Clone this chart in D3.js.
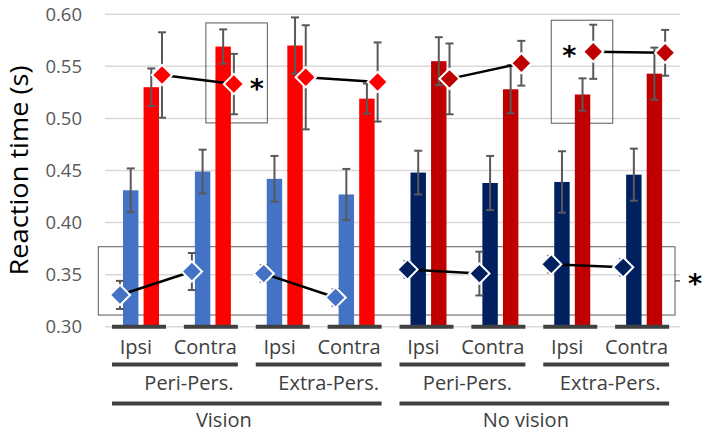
<!DOCTYPE html>
<html>
<head>
<meta charset="utf-8">
<script src="https://cdn.jsdelivr.net/npm/d3@7"></script>
<style>
  html, body { margin: 0; padding: 0; background: #fff; }
  svg { display: block; font-family: "Open Sans", "Noto Sans", sans-serif; }
</style>
</head>
<body>
<svg id="chart" width="708" height="432"></svg>
<script>
"use strict";

// categories (three levels of the x-axis)
const sideLabels  = ["Ipsi", "Contra", "Ipsi", "Contra", "Ipsi", "Contra", "Ipsi", "Contra"];
const spaceLabels = ["Peri-Pers.", "Extra-Pers.", "Peri-Pers.", "Extra-Pers."];
const visionLabels = ["Vision", "No vision"];

// bars
const blueBar     = [0.431, 0.449, 0.442, 0.427, 0.448, 0.438, 0.439, 0.446];
const blueBarErr  = [0.021, 0.021, 0.022, 0.0245, 0.021, 0.026, 0.0295, 0.025];
const redBar      = [0.530, 0.569, 0.570, 0.519, 0.555, 0.528, 0.523, 0.543];
const redBarErr   = [0.018, 0.0165, 0.027, 0.0145, 0.023, 0.023, 0.0155, 0.025];

// diamonds
const blueDiamond    = [0.3305, 0.353, 0.351, 0.328, 0.355, 0.351, 0.360, 0.357];
const blueDiamondErr = [0.0135, 0.0178, 0.008, 0.008, 0.008, 0.021, 0.008, 0.008];
const redDiamond     = [0.5417, 0.533, 0.5395, 0.535, 0.538, 0.553, 0.564, 0.563];
const redDiamondErr  = [0.041, 0.029, 0.050, 0.038, 0.034, 0.0215, 0.026, 0.022];

// y ticks
const yTicks = [0.30, 0.35, 0.40, 0.45, 0.50, 0.55, 0.60];

// colours: vision groups 0-3, no-vision groups 4-7
const blueColor = (i) => i < 4 ? "#4472C4" : "#002060";
const redColor  = (i) => i < 4 ? "#FF0000" : "#C00000";

const plot = { left: 105, right: 680, top: 14.3, bottom: 326.7 };

const svg = d3.select("#chart");

// scales
const x = d3.scaleBand()
    .domain(d3.range(sideLabels.length))
    .range([plot.left, plot.right]);

const xBar = d3.scaleBand()
    .domain(["blue", "red"])
    .range([18, 54])
    .paddingInner(0.25);

const xPt = d3.scalePoint()
    .domain(["blue", "red"])
    .range([15, 57]);

const y = d3.scaleLinear()
    .domain([0.30, 0.60])
    .range([plot.bottom, plot.top]);

// gridlines
svg.append("g")
    .selectAll("line")
    .data(yTicks)
  .enter().append("line")
    .attr("x1", plot.left)
    .attr("x2", plot.right)
    .attr("y1", (d) => y(d))
    .attr("y2", (d) => y(d))
    .style("stroke", "#d9d9d9")
    .style("stroke-width", 1.5);

// y-axis labels
const yAxis = d3.axisLeft(y)
    .tickValues(yTicks)
    .tickFormat(d3.format(".2f"))
    .tickSize(0)
    .tickPadding(23);

const gy = svg.append("g")
    .attr("transform", "translate(" + plot.left + ",0)")
    .call(yAxis);
gy.select(".domain").remove();
gy.selectAll("text")
    .style("font-family", "'Open Sans', sans-serif")
    .style("font-size", "18.5px")
    .style("fill", "#595959");

// y-axis title
svg.append("text")
    .attr("transform", "translate(28," + ((y(0.30) + y(0.60)) / 2) + ") rotate(-90)")
    .attr("text-anchor", "middle")
    .attr("textLength", 210)
    .attr("lengthAdjust", "spacingAndGlyphs")
    .style("font-size", "25px")
    .style("fill", "#000")
    .text("Reaction time (s)");

// annotation boxes (behind the marks)
const boxes = [
  { x0: x(1) + 29, x1: x(1) + 90.5, y0: 0.5917, y1: 0.4957 },
  { x0: x(6) + 15, x1: x(6) + 76.5, y0: 0.5943, y1: 0.4954 },
  { x0: plot.left - 6.7, x1: plot.right - 5, y0: 0.3768, y1: 0.3112 }
];
svg.append("g")
    .selectAll("rect")
    .data(boxes)
  .enter().append("rect")
    .attr("x", (d) => d.x0)
    .attr("y", (d) => y(d.y0))
    .attr("width", (d) => d.x1 - d.x0)
    .attr("height", (d) => y(d.y1) - y(d.y0))
    .style("fill", "none")
    .style("stroke", "#595959")
    .style("stroke-width", 1);

// little bracket tick right of the lower box
svg.append("line")
    .attr("x1", plot.right - 5)
    .attr("x2", plot.right)
    .attr("y1", y(0.344))
    .attr("y2", y(0.344))
    .style("stroke", "#595959")
    .style("stroke-width", 1.5);

// bars
const bars = svg.append("g");
bars.selectAll(".bar-blue")
    .data(blueBar)
  .enter().append("rect")
    .attr("class", "bar-blue")
    .attr("x", (d, i) => x(i) + xBar("blue"))
    .attr("width", xBar.bandwidth())
    .attr("y", (d) => y(d))
    .attr("height", (d) => y(0.30) - y(d))
    .style("fill", (d, i) => blueColor(i));

bars.selectAll(".bar-red")
    .data(redBar)
  .enter().append("rect")
    .attr("class", "bar-red")
    .attr("x", (d, i) => x(i) + xBar("red"))
    .attr("width", xBar.bandwidth())
    .attr("y", (d) => y(d))
    .attr("height", (d) => y(0.30) - y(d))
    .style("fill", (d, i) => redColor(i));

// error bar helper
function errorBars(g, cx, vals, errs) {
  const eb = g.append("g")
      .selectAll("g")
      .data(vals.map((v, i) => ({ i: i, v: v, e: errs[i] })))
    .enter().append("g")
      .style("stroke", "#595959")
      .style("stroke-width", 2);
  eb.append("line")
      .attr("x1", (d) => cx(d.i)).attr("x2", (d) => cx(d.i))
      .attr("y1", (d) => y(d.v - d.e)).attr("y2", (d) => y(d.v + d.e));
  [-1, 1].forEach((s) => {
    eb.append("line")
        .attr("x1", (d) => cx(d.i) - 4).attr("x2", (d) => cx(d.i) + 4)
        .attr("y1", (d) => y(d.v + s * d.e)).attr("y2", (d) => y(d.v + s * d.e));
  });
}

errorBars(svg, (i) => x(i) + xBar("blue") + xBar.bandwidth() / 2, blueBar, blueBarErr);
errorBars(svg, (i) => x(i) + xBar("red") + xBar.bandwidth() / 2, redBar, redBarErr);

// connecting lines between ipsi / contra diamonds
const pairs = [[0, 1], [2, 3], [4, 5], [6, 7]];
const line = d3.line()
    .x((d) => d.x)
    .y((d) => y(d.v));

[["blue", blueDiamond], ["red", redDiamond]].forEach(([key, vals]) => {
  svg.append("g")
      .selectAll("path")
      .data(pairs)
    .enter().append("path")
      .attr("d", (p) => line(p.map((i) => ({ x: x(i) + xPt(key), v: vals[i] }))))
      .style("fill", "none")
      .style("stroke", "#000")
      .style("stroke-width", 2.5);
});

// diamond error bars
errorBars(svg, (i) => x(i) + xPt("blue"), blueDiamond, blueDiamondErr);
errorBars(svg, (i) => x(i) + xPt("red"), redDiamond, redDiamondErr);

// diamonds
const diamond = d3.symbol().type(d3.symbolSquare).size(205);
[["blue", blueDiamond, blueColor], ["red", redDiamond, redColor]].forEach(([key, vals, col]) => {
  svg.append("g")
      .selectAll("path")
      .data(vals)
    .enter().append("path")
      .attr("d", diamond)
      .attr("transform", (d, i) => "translate(" + (x(i) + xPt(key)) + "," + y(d) + ") rotate(45)")
      .style("fill", (d, i) => col(i))
      .style("stroke", "#fff")
      .style("stroke-width", 2);
});

// significance stars
const stars = [
  { x: x(1) + 80, v: 0.533 },
  { x: x(6) + 33, v: 0.5648 },
  { x: plot.right + 15, v: 0.3458 }
];
svg.append("g")
    .selectAll("text")
    .data(stars)
  .enter().append("text")
    .attr("x", (d) => d.x)
    .attr("y", (d) => y(d.v) + 14)
    .attr("text-anchor", "middle")
    .style("font-family", "'DejaVu Sans', sans-serif")
    .style("font-weight", "bold")
    .style("font-size", "27px")
    .style("fill", "#000")
    .text("*");

// multi-level category axis
const segPad = 7, segW = 54;
const rows = { line1: y(0.30), text1: 354, line2: 364.5, text2: 390, line3: 403.5, text3: 426.5 };
const axisG = svg.append("g")
    .style("stroke", "#404040")
    .style("stroke-width", 4);
const textG = svg.append("g")
    .attr("text-anchor", "middle")
    .style("font-size", "20px")
    .style("fill", "#404040");

// level 1
axisG.selectAll(".seg1")
    .data(sideLabels)
  .enter().append("line")
    .attr("x1", (d, i) => x(i) + segPad)
    .attr("x2", (d, i) => x(i) + segPad + segW)
    .attr("y1", rows.line1).attr("y2", rows.line1);
textG.selectAll(".t1")
    .data(sideLabels)
  .enter().append("text")
    .attr("x", (d, i) => x(i) + x.bandwidth() / 2 + (d === "Ipsi" ? -5 : -7.5))
    .attr("y", rows.text1)
    .text((d) => d);

// level 2
const span2 = spaceLabels.map((d, k) => ({ d: d, x0: x(2 * k) + segPad, x1: x(2 * k + 1) + segPad + segW }));
const dx2 = [14, 10, 5, 4];
axisG.selectAll(".seg2")
    .data(span2)
  .enter().append("line")
    .attr("x1", (d) => d.x0).attr("x2", (d) => d.x1)
    .attr("y1", rows.line2).attr("y2", rows.line2);
textG.selectAll(".t2")
    .data(span2)
  .enter().append("text")
    .attr("x", (d, k) => (d.x0 + d.x1) / 2 + dx2[k])
    .attr("y", rows.text2)
    .text((d) => d.d);

// level 3
const span3 = visionLabels.map((d, k) => ({ d: d, x0: x(4 * k) + segPad, x1: x(4 * k + 3) + segPad + segW }));
const dx3 = [-23, -8.5];
axisG.selectAll(".seg3")
    .data(span3)
  .enter().append("line")
    .attr("x1", (d) => d.x0).attr("x2", (d) => d.x1)
    .attr("y1", rows.line3).attr("y2", rows.line3);
textG.selectAll(".t3")
    .data(span3)
  .enter().append("text")
    .attr("x", (d, k) => (d.x0 + d.x1) / 2 + dx3[k])
    .attr("y", rows.text3)
    .text((d) => d.d);
</script>
</body>
</html>
